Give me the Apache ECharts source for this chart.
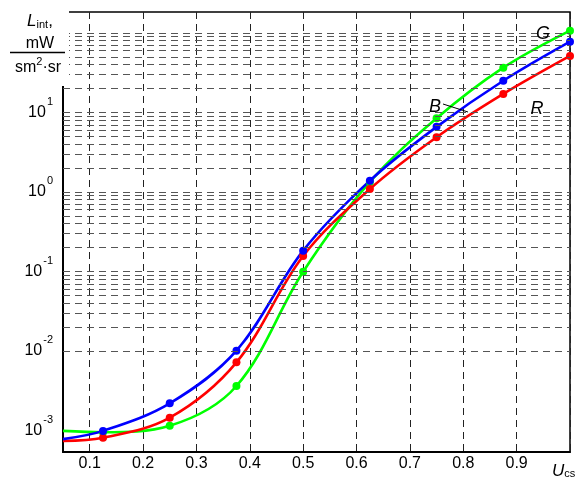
<!DOCTYPE html>
<html>
<head>
<meta charset="UTF-8">
<script src="https://cdn.jsdelivr.net/npm/echarts@6/dist/echarts.min.js"></script>
<style>
  html, body { margin: 0; padding: 0; background: #fff; }
  #main { width: 580px; height: 479px; }
</style>
</head>
<body>
<div id="main"></div>
<script>
// 横轴：控制电压 U_cs
var uValues = [0.05, 0.125, 0.25, 0.375, 0.5, 0.625, 0.75, 0.875, 1.0];
// 纵轴：积分亮度 L_int, mW/(sm²·sr)，对数刻度
var redValues   = [7.4e-4, 8.1e-4, 1.45e-3, 7.2e-3, 0.157, 1.09, 4.88, 17.1, 51.4];
var greenValues = [9.9e-4, 9.5e-4, 1.15e-3, 3.63e-3, 0.0994, 1.34, 8.45, 36.6, 107];
var blueValues  = [7.8e-4, 9.9e-4, 2.2e-3, 1.01e-2, 0.183, 1.39, 6.6, 25.1, 77.8];
// 标注的十进制刻度（指数）
var yDecades = [-3, -2, -1, 0, 1];
var xTickLabels = ['0.1', '0.2', '0.3', '0.4', '0.5', '0.6', '0.7', '0.8', '0.9'];

var FONT = 'Liberation Sans';
var chart = echarts.init(document.getElementById('main'));

// 每个十进制内的 1..9 网格线
var gridLines = [];
for (var e = -4; e <= 2; e++) {
  for (var m = 1; m <= 9; m++) {
    gridLines.push({ yAxis: m * Math.pow(10, e) });
  }
}

function toPoints(vals) {
  return uValues.map(function (u, i) {
    // 左端点只是曲线的延伸，没有圆点
    return i === 0 ? { value: [u, vals[i]], symbol: 'none' } : [u, vals[i]];
  });
}

function curve(name, vals, color) {
  return {
    name: name,
    type: 'line',
    data: toPoints(vals),
    smooth: 0.35,
    symbol: 'circle',
    symbolSize: 8,
    lineStyle: { color: color, width: 2.6 },
    itemStyle: { color: color },
    z: 3
  };
}

var option = {
  animation: false,
  grid: { left: 63, right: 10, top: 12, bottom: 27, show: true, borderColor: '#000', borderWidth: 1.5 },
  xAxis: {
    type: 'value', min: 0.05, max: 1.0, splitNumber: 10,
    axisLine: { lineStyle: { color: '#000', width: 2 } },
    axisTick: { show: false },
    splitLine: { show: true, lineStyle: { type: [7, 5], color: '#222', width: 1 } },
    axisLabel: {
      margin: 4, fontSize: 16, fontFamily: FONT, color: '#000',
      formatter: function (v) {
        var s = v.toFixed(1);
        return xTickLabels.indexOf(s) >= 0 && Math.abs(v - parseFloat(s)) < 1e-6 ? s : '';
      }
    }
  },
  yAxis: {
    type: 'log', logBase: 10, min: 5.37e-4, max: 183.7,
    axisLine: { show: true, lineStyle: { color: '#000', width: 2 } },
    axisTick: { show: false },
    splitLine: { show: false },
    axisLabel: {
      margin: 10, color: '#000',
      formatter: function (v) {
        var e = Math.log10(v);
        var r = Math.round(e);
        if (Math.abs(e - r) > 1e-6 || yDecades.indexOf(r) < 0) return '';
        return '{b|10}{s|' + r + '}';
      },
      rich: {
        b: { fontSize: 16, fontFamily: FONT, color: '#000' },
        s: { fontSize: 11, fontFamily: FONT, color: '#000', padding: [0, 0, 22, 1] }
      }
    }
  },
  series: [
    {
      name: 'grid', type: 'line', data: [], z: 1, silent: true,
      markLine: {
        silent: true, symbol: ['none', 'none'], label: { show: false },
        lineStyle: { type: [7, 5], color: '#555', width: 1 },
        data: gridLines
      }
    },
    curve('G', greenValues, '#00ff00'),
    curve('R', redValues, '#ff0000'),
    curve('B', blueValues, '#0000ff')
  ],
  graphic: [
    { type: 'rect', shape: { x: 0, y: 0, width: 69, height: 86 }, style: { fill: '#fff' }, z: 100 },
    {
      type: 'text', z: 101, x: 40, y: 21,
      style: {
        text: '{L|L}{i|int}{c|,}', align: 'center', verticalAlign: 'middle',
        rich: {
          L: { fontSize: 17, fontStyle: 'italic', fontFamily: FONT },
          i: { fontSize: 11, fontFamily: FONT, padding: [8, 0, 0, 0] },
          c: { fontSize: 17, fontFamily: FONT }
        }
      }
    },
    { type: 'text', z: 101, x: 40, y: 44, style: { text: 'mW', fontSize: 16, fontFamily: FONT, align: 'center', verticalAlign: 'middle' } },
    { type: 'line', z: 101, shape: { x1: 10, y1: 52.5, x2: 65, y2: 52.5 }, style: { stroke: '#000', lineWidth: 1.5 } },
    {
      type: 'text', z: 101, x: 38, y: 68,
      style: {
        text: '{a|sm}{s|2}{a|·sr}', align: 'center', verticalAlign: 'middle',
        rich: {
          a: { fontSize: 16, fontFamily: FONT },
          s: { fontSize: 11, fontFamily: FONT, padding: [0, 0, 12, 0] }
        }
      }
    },
    {
      type: 'text', z: 101, x: 552, y: 471,
      style: {
        text: '{u|U}{c|cs}', align: 'left', verticalAlign: 'middle',
        rich: {
          u: { fontSize: 17, fontStyle: 'italic', fontFamily: FONT },
          c: { fontSize: 11, fontFamily: FONT, padding: [6, 0, 0, 0] }
        }
      }
    },
    { type: 'text', z: 101, x: 543, y: 34, style: { text: 'G', fontSize: 18, fontStyle: 'italic', fontFamily: FONT, align: 'center', verticalAlign: 'middle' } },
    { type: 'text', z: 101, x: 435, y: 107, style: { text: 'B', fontSize: 18, fontStyle: 'italic', fontFamily: FONT, align: 'center', verticalAlign: 'middle' } },
    { type: 'text', z: 101, x: 537, y: 109, style: { text: 'R', fontSize: 18, fontStyle: 'italic', fontFamily: FONT, align: 'center', verticalAlign: 'middle' } },
    { type: 'line', z: 101, shape: { x1: 443, y1: 104, x2: 468, y2: 112 }, style: { stroke: '#000', lineWidth: 1 } }
  ]
};

chart.setOption(option);
</script>
</body>
</html>
